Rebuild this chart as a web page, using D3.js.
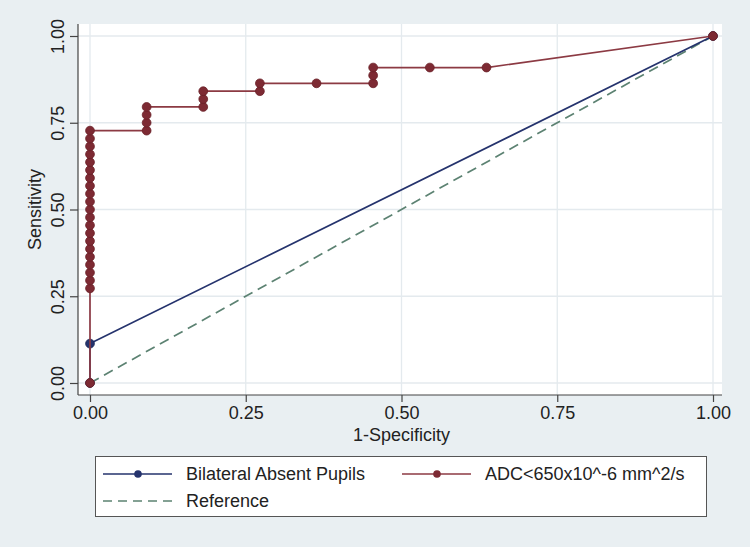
<!DOCTYPE html>
<html><head><meta charset="utf-8">
<script src="https://cdn.jsdelivr.net/npm/d3@7"></script>
<style>body{margin:0;background:#e9eff2;}svg{display:block;}</style>
</head><body>
<svg id="c" width="750" height="547"></svg>
<script>
// Bilateral Absent Pupils ROC
const pupilsX = [0, 0, 1];
const pupilsY = [0, 0.1136, 1];
// ADC<650x10^-6 mm^2/s ROC
const adcX = [0, 0, 0, 0, 0, 0, 0, 0, 0, 0, 0, 0, 0, 0, 0, 0, 0, 0, 0, 0, 0, 0,
  0.0909, 0.0909, 0.0909, 0.0909, 0.1818, 0.1818, 0.1818, 0.2727, 0.2727, 0.3636,
  0.4545, 0.4545, 0.4545, 0.5455, 0.6364, 1];
const adcY = [0, 0.2727, 0.2955, 0.3182, 0.3409, 0.3636, 0.3864, 0.4091, 0.4318, 0.4545,
  0.4773, 0.5, 0.5227, 0.5455, 0.5682, 0.5909, 0.6136, 0.6364, 0.6591, 0.6818, 0.7045, 0.7273,
  0.7273, 0.75, 0.7727, 0.7955, 0.7955, 0.8182, 0.8409, 0.8409, 0.8636, 0.8636,
  0.8636, 0.8864, 0.9091, 0.9091, 0.9091, 1];
const refX = [0, 1];
const refY = [0, 1];
const ticks = [0, 0.25, 0.5, 0.75, 1];
const tickLabels = ["0.00", "0.25", "0.50", "0.75", "1.00"];
const legendLabels = ["Bilateral Absent Pupils", "ADC<650x10^-6 mm^2/s", "Reference"];

const bg = "#e9eff2", gridC = "#e4eaee";
const blue = "#25336d", red = "#7d2a33", redLine = "#8c3a43", green = "#5c8272";
const font = "Liberation Sans, Arial, sans-serif";

const svg = d3.select("#c");
svg.append("rect").attr("width", 750).attr("height", 547).attr("fill", bg);

const x = d3.scaleLinear().domain([0, 1]).range([90, 713]);
const y = d3.scaleLinear().domain([0, 1]).range([383, 36]);
const plotL = 78, plotR = 722, plotT = 24, plotB = 395;

svg.append("rect").attr("x", plotL).attr("y", plotT).attr("width", plotR - plotL).attr("height", plotB - plotT).attr("fill", "#fff");

// grid
const g = svg.append("g");
g.selectAll(".gx").data(ticks).join("line")
  .attr("x1", d => x(d)).attr("x2", d => x(d)).attr("y1", plotT).attr("y2", plotB)
  .attr("stroke", gridC).attr("stroke-width", 1.3);
g.selectAll(".gy").data(ticks).join("line")
  .attr("y1", d => y(d)).attr("y2", d => y(d)).attr("x1", plotL).attr("x2", plotR)
  .attr("stroke", gridC).attr("stroke-width", 1.3);

// axes
const xAxis = d3.axisBottom(x).tickValues(ticks).tickFormat((d, i) => tickLabels[i]).tickSize(7).tickSizeOuter(0).tickPadding(4);
const xa = svg.append("g").attr("transform", `translate(0,${plotB})`).call(xAxis);
xa.select(".domain").remove();
xa.append("line").attr("x1", plotL).attr("x2", plotR).attr("stroke", "#444").attr("stroke-width", 1.2);
xa.selectAll(".tick line").attr("stroke", "#444").attr("stroke-width", 1.2);
xa.selectAll(".tick text").attr("font-family", font).attr("font-size", 18).attr("fill", "#222");

const yAxis = d3.axisLeft(y).tickValues(ticks).tickFormat((d, i) => tickLabels[i]).tickSize(8).tickSizeOuter(0);
const ya = svg.append("g").attr("transform", `translate(${plotL},0)`).call(yAxis);
ya.select(".domain").remove();
ya.append("line").attr("y1", plotT).attr("y2", plotB).attr("stroke", "#444").attr("stroke-width", 1.2);
ya.selectAll(".tick line").attr("stroke", "#444").attr("stroke-width", 1.2);
ya.selectAll(".tick text").attr("font-family", font).attr("font-size", 18).attr("fill", "#222")
  .attr("x", 0).attr("dy", null).attr("text-anchor", "middle")
  .attr("transform", "translate(-20,0) rotate(-90)")
  .attr("dominant-baseline", "central");

svg.append("text").attr("x", (x(0) + x(1)) / 2).attr("y", 441).attr("text-anchor", "middle")
  .attr("font-family", font).attr("font-size", 18).attr("fill", "#222").text("1-Specificity");
svg.append("text").attr("transform", `translate(41,${(y(0) + y(1)) / 2}) rotate(-90)`).attr("text-anchor", "middle")
  .attr("font-family", font).attr("font-size", 18).attr("fill", "#222").text("Sensitivity");

const line = d3.line().x(d => x(d[0])).y(d => y(d[1]));
const refPts = refX.map((v, i) => [v, refY[i]]);
const pupPts = pupilsX.map((v, i) => [v, pupilsY[i]]);
const adcPts = adcX.map((v, i) => [v, adcY[i]]);

svg.append("path").attr("d", line(refPts)).attr("fill", "none").attr("stroke", green).attr("stroke-width", 1.7).attr("stroke-dasharray", "10,6");
svg.append("path").attr("d", line(pupPts)).attr("fill", "none").attr("stroke", blue).attr("stroke-width", 1.7);
svg.selectAll(".pd").data(pupPts).join("circle").attr("cx", d => x(d[0])).attr("cy", d => y(d[1])).attr("r", 4.4)
  .attr("fill", blue).attr("stroke", "#1a2655").attr("stroke-width", 0.8);
svg.append("path").attr("d", line(adcPts)).attr("fill", "none").attr("stroke", redLine).attr("stroke-width", 1.7);
svg.selectAll(".ad").data(adcPts).join("circle").attr("cx", d => x(d[0])).attr("cy", d => y(d[1])).attr("r", 4.4)
  .attr("fill", red).attr("stroke", "#6a1f27").attr("stroke-width", 0.8);

// legend
const lg = svg.append("g");
lg.append("rect").attr("x", 95.5).attr("y", 456.5).attr("width", 611).attr("height", 60).attr("fill", "#fff").attr("stroke", "#555").attr("stroke-width", 1);
const items = [
  {x0: 103, y0: 474, c: blue, dash: null, dot: true, t: legendLabels[0]},
  {x0: 402, y0: 474, c: redLine, dash: null, dot: true, t: legendLabels[1], dc: red},
  {x0: 103, y0: 501, c: green, dash: "9,6", dot: false, t: legendLabels[2]}
];
items.forEach(it => {
  lg.append("line").attr("x1", it.x0).attr("x2", it.x0 + 69).attr("y1", it.y0).attr("y2", it.y0)
    .attr("stroke", it.c).attr("stroke-width", 1.7).attr("stroke-dasharray", it.dash);
  if (it.dot) lg.append("circle").attr("cx", it.x0 + 35).attr("cy", it.y0).attr("r", 3.8).attr("fill", it.dc || it.c);
  lg.append("text").attr("x", it.x0 + 83).attr("y", it.y0).attr("dominant-baseline", "central")
    .attr("font-family", font).attr("font-size", 18).attr("fill", "#222").text(it.t);
});
</script>
</body></html>
